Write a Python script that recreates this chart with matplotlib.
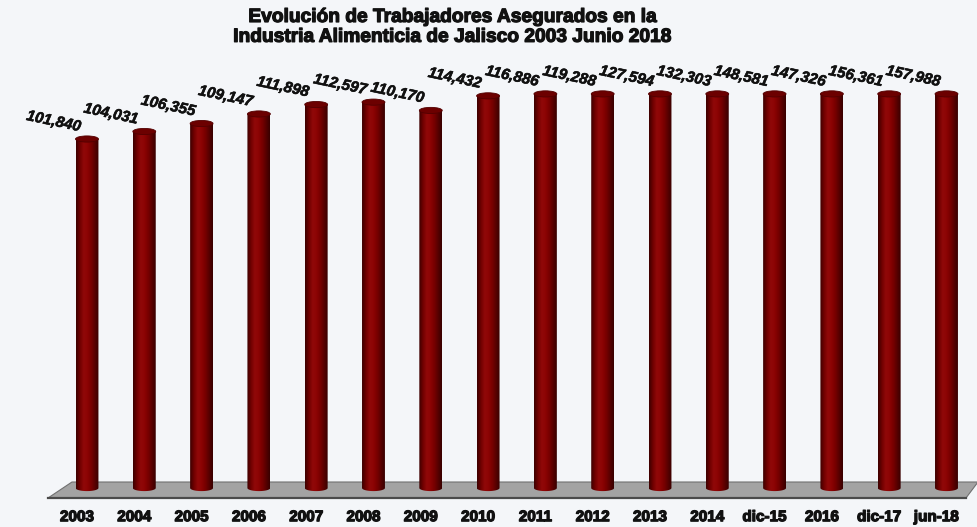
import numpy as np
import matplotlib.pyplot as plt
import matplotlib.patheffects as pe
from matplotlib.patches import Polygon, Ellipse, PathPatch
from matplotlib.path import Path
from matplotlib.colors import LinearSegmentedColormap

periods = ["2003", "2004", "2005", "2006", "2007", "2008", "2009", "2010",
           "2011", "2012", "2013", "2014", "dic-15", "2016", "dic-17", "jun-18"]
workers = [101840, 104031, 106355, 109147, 111898, 112597, 110170, 114432,
           116886, 119288, 127594, 132303, 148581, 147326, 156361, 157988]

title = "Evolución de Trabajadores Asegurados en la\nIndustria Alimenticia de Jalisco 2003 Junio 2018"

# value axis is cut at this height, taller columns are clipped
y_cap = 115000
bg = "#f4f6f9"

fig = plt.figure(figsize=(9.78, 5.27), dpi=100, facecolor=bg)
ax = fig.add_axes([0, 0, 1, 1])
ax.set_facecolor(bg)
ax.set_xlim(-1.518, 15.55)
ax.set_ylim(-11380, 142400)
ax.axis("off")

# floor of the 3D plot
floor = Polygon([(-0.68, -2918), (15.34, -2918), (15.55, 1750), (-0.262, 1750)],
                closed=True, facecolor="#a3a3a3", edgecolor="#707070", lw=0.8, zorder=1)
ax.add_patch(floor)
ax.plot([-0.68, 15.34], [-2918, -2918], color="#4a4a4a", lw=1.6, zorder=1)

cyl = LinearSegmentedColormap.from_list(
    "cyl", ["#3c0000", "#700000", "#900808", "#8c0404", "#780000", "#580000", "#380000"])
grad = np.linspace(0, 1, 64).reshape(1, -1)

# faux heavy weight for the Arial-Black look
heavy = [pe.withStroke(linewidth=0.9, foreground="#111111")]

w = 0.40
eh = 1800
for i, v in enumerate(workers):
    h = min(v, y_cap)
    t = np.linspace(0, np.pi, 40)
    arc = np.column_stack([i + w / 2 * np.cos(t), -eh / 2 * np.sin(t)])
    verts = np.vstack([arc, [[i - w / 2, h], [i + w / 2, h], [i + w / 2, 0]]])
    body = PathPatch(Path(verts, closed=False), facecolor="none", edgecolor="none")
    ax.add_patch(body)
    im = ax.imshow(grad, cmap=cyl, aspect="auto", interpolation="bilinear",
                   extent=(i - w / 2, i + w / 2, -eh, h), zorder=2)
    im.set_clip_path(body)
    ax.add_patch(Ellipse((i, h), w, eh, facecolor="#6c0000",
                         edgecolor="#520000", lw=0.6, zorder=3))

    ax.annotate(f"{v:,}", (i, h), xytext=(-24, 12.5), textcoords="offset points",
                ha="center", va="center", rotation=-12, fontsize=11,
                fontweight="bold", fontstyle="italic", family="Liberation Sans",
                color="#111111", zorder=4,
                path_effects=[pe.withStroke(linewidth=0.4, foreground="#111111")])
    ax.annotate(periods[i], (i, 0), xytext=(-7.2, -21), textcoords="offset points",
                ha="center", va="center", fontsize=11, fontweight="bold",
                family="Liberation Sans", color="#111111", path_effects=heavy)

fig.text(0.462, 0.948, title, ha="center", va="center", fontsize=13.8,
         fontweight="bold", family="Liberation Sans", color="#111111",
         linespacing=1.22, path_effects=heavy)

fig.savefig("out.png", dpi=100, facecolor=bg)
